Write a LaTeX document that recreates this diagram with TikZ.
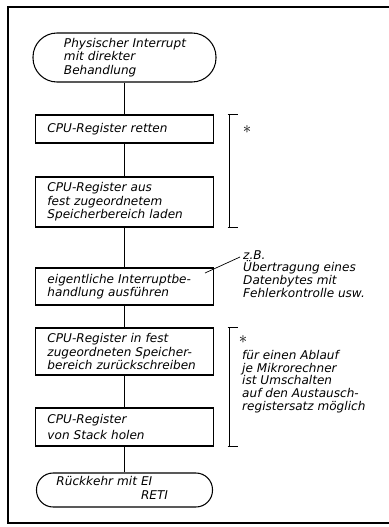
\documentclass[tikz,border=0pt]{standalone}
\usepackage{fontspec}
\newfontfamily\dinfont{DejaVu Sans}
\usetikzlibrary{positioning,calc}
\tikzset{
    procbox/.style={draw, line width=0.9pt, rectangle, text width=4.62cm, inner xsep=0.36cm, inner ysep=0pt,
        align=left, font=\dinfont\itshape\fontsize{10.3}{11.5}\selectfont},
    termbox/.style={procbox, rounded corners=0.72cm},
    notetext/.style={inner sep=0pt, anchor=north west, align=left, font=\dinfont\itshape\fontsize{10.3}{10.9}\selectfont},
    astmark/.style={inner sep=0pt, font=\Large}
}
\begin{document}
\begin{tikzpicture}[x=0.03cm, y=-0.03cm]
    \useasboundingbox (0,0) rectangle (389,527);
    \draw[line width=0.9pt] (395,7) -- (8,7) -- (8,523) -- (395,523);

    \node[termbox, minimum height=1.47cm, text width=3.63cm, inner xsep=0.93cm] (start) at (124.5,57.5)
        {\mbox{Physischer Interrupt}\\ mit direkter\\ Behandlung};
    \node[procbox, minimum height=0.84cm] (retten) at (124.5,129) {CPU-Register retten};
    \node[procbox, minimum height=1.5cm] (laden) at (124.5,202)
        {CPU-Register aus\\ fest zugeordnetem\\ Speicherbereich laden};
    \node[procbox, minimum height=1.11cm] (ausf) at (124.5,286.5)
        {eigentliche Interruptbe-\\ handlung ausführen};
    \node[procbox, minimum height=1.41cm] (zurueck) at (124.5,351.5)
        {CPU-Register in fest\\ zugeordneten Speicher-\\ bereich zurückschreiben};
    \node[procbox, minimum height=1.14cm] (holen) at (124.5,427)
        {CPU-Register\\[2pt] von Stack holen};
    \node[termbox, rounded corners=0.5cm, minimum height=1.02cm, text width=4.08cm, inner xsep=0.6cm] (ende) at (124.5,490)
        {Rückkehr mit \begin{tabular}[t]{@{}l@{}}EI\\ RETI\end{tabular}};

    \draw[line width=0.9pt] (start) -- (retten) -- (laden) -- (ausf) -- (zurueck) -- (holen) -- (ende);

    \foreach \ua/\ub in {retten/laden, zurueck/holen} {
        \coordinate (\ua-t) at ($(\ua.north east)+(15.5,0)$);
        \coordinate (\ub-b) at ($(\ub.south east)+(15.5,0)$);
        \draw[line width=0.7pt] (\ua-t) -- (\ub-b);
        \draw[line width=0.7pt] ($(\ua-t)+(-2,0)$) -- ($(\ua-t)+(8,0)$);
        \draw[line width=0.7pt] ($(\ub-b)+(-2,0)$) -- ($(\ub-b)+(8,0)$);
    }
    \node[astmark] (ast1) at (247,130) {$\ast$};
    \node[astmark] (ast2) at (243,340) {$\ast$};

    \node[notetext] (note1) at (243,250)
        {z.B.\\ Übertragung eines\\ Datenbytes mit\\ Fehlerkontrolle usw.};
    \node[notetext] (note2) at (242,350)
        {für einen Ablauf\\ je Mikrorechner\\ ist Umschalten\\ auf den Austausch-\\ registersatz möglich};

    \coordinate (lead1) at (205,273);
    \coordinate (lead2) at (240,257);
    \draw[line width=0.6pt] (lead1) -- (lead2);
\end{tikzpicture}
\end{document}
